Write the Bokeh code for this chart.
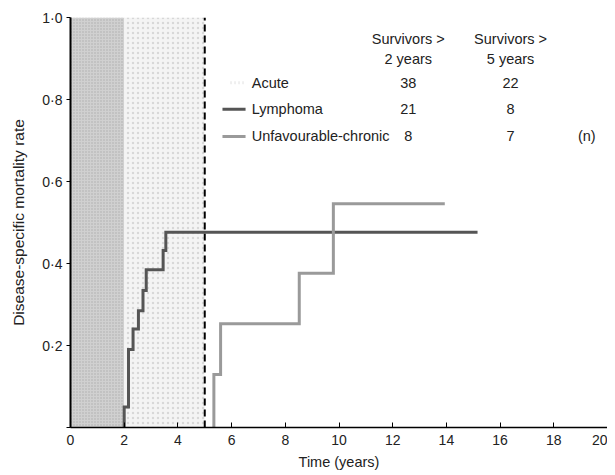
from bokeh.plotting import figure
from bokeh.models import ColumnDataSource, FixedTicker
from bokeh.core.properties import value
from bokeh.embed import file_html
from bokeh.resources import INLINE

# --- data ---
groups = ["Acute", "Lymphoma", "Unfavourable-chronic"]
surv_2y = ["38", "21", "8"]
surv_5y = ["22", "8", "7"]
col_headers = ["Survivors >\n2 years", "Survivors >\n5 years"]

# shaded periods (years)
acute_dark_span = [0, 2]
acute_light_span = [2, 5]
cutoff_year = 5

lym_t = [2.0, 2.0, 2.16, 2.33, 2.53, 2.70, 2.82, 3.45, 3.55, 15.16]
lym_y = [0.0, 0.05, 0.19, 0.24, 0.285, 0.334, 0.385, 0.432, 0.476, 0.476]

unf_t = [5.34, 5.34, 5.59, 8.52, 9.79, 13.94]
unf_y = [0.0, 0.129, 0.253, 0.376, 0.546, 0.546]

x_ticks = list(range(0, 21, 2))
y_ticks = [0.0, 0.2, 0.4, 0.6, 0.8, 1.0]
y_tick_labels = {0.0: "", 0.2: "0·2", 0.4: "0·4", 0.6: "0·6", 0.8: "0·8", 1.0: "1·0"}

FONT = "Liberation Sans"
TXT = "#222222"
LYM_COL = "#555555"
UNF_COL = "#9a9a9a"

p = figure(output_backend="svg", toolbar_location=None,
           frame_width=537, frame_height=410,
           x_range=(0, 20), y_range=(0, 1),
           min_border_left=70, min_border_right=0,
           min_border_top=17, min_border_bottom=40)
p.outline_line_color = None
p.xgrid.visible = False
p.ygrid.visible = False

# shaded regions
p.quad(left=[acute_dark_span[0]], right=[acute_dark_span[1]], bottom=[0], top=[1],
       fill_color="#d0d0d0", line_color=None,
       hatch_pattern="dot", hatch_color="#ababab", hatch_scale=3, hatch_weight=1)
p.quad(left=[acute_light_span[0]], right=[acute_light_span[1]], bottom=[0], top=[1],
       fill_color="#f4f4f4", line_color=None,
       hatch_pattern="dot", hatch_color="#d8d8d8", hatch_scale=5, hatch_weight=1)

# cutoff dashed line
p.line([cutoff_year, cutoff_year], [0, 1], line_color="black", line_width=2,
       line_dash="7 4")

# curves
p.step(lym_t, lym_y, mode="after", line_color=LYM_COL, line_width=3, line_join="miter")
p.step(unf_t, unf_y, mode="after", line_color=UNF_COL, line_width=3, line_join="miter")

# legend / table (manual)
row_y = [0.841, 0.776, 0.71]
sample_x0, sample_x1 = 5.66, 6.52
label_x = 6.75
col1_x, col2_x, n_x = 12.58, 16.39, 19.23

p.segment(x0=[sample_x0 + 0.3], x1=[sample_x1], y0=[row_y[0]], y1=[row_y[0]],
          line_color="#e0e0e0", line_width=3, line_dash="1 3")
p.segment(x0=[sample_x0] * 2, x1=[sample_x1] * 2, y0=row_y[1:], y1=row_y[1:],
          line_color=[LYM_COL, UNF_COL], line_width=3)

FS = "14.5px"
tsrc = ColumnDataSource(dict(x=[label_x] * 3, y=row_y, t=groups))
p.text(x="x", y="y", text="t", source=tsrc, text_font=value(FONT),
       text_font_size=FS, text_baseline="middle", text_align="left",
       text_color=TXT)
p.text(x=[col1_x] * 3, y=row_y, text=surv_2y, text_font=value(FONT),
       text_font_size=FS, text_baseline="middle", text_align="center",
       text_color=TXT)
p.text(x=[col2_x] * 3, y=row_y, text=surv_5y, text_font=value(FONT),
       text_font_size=FS, text_baseline="middle", text_align="center",
       text_color=TXT)
p.text(x=[n_x], y=[row_y[2]], text=["(n)"], text_font=value(FONT),
       text_font_size=FS, text_baseline="middle", text_align="center",
       text_color=TXT)
p.text(x=[col1_x, col2_x], y=[0.923, 0.923], text=col_headers, text_font=value(FONT),
       text_font_size=FS, text_baseline="middle", text_align="center",
       text_line_height=1.2, text_color=TXT)

# axes
p.xaxis.ticker = FixedTicker(ticks=x_ticks)
p.yaxis.ticker = FixedTicker(ticks=y_ticks)
p.yaxis.major_label_overrides = y_tick_labels
p.xaxis.axis_label = "Time (years)"
p.yaxis.axis_label = "Disease-specific mortality rate"
for ax in (p.xaxis, p.yaxis):
    ax.axis_label_text_font = FONT
    ax.axis_label_text_font_style = "normal"
    ax.axis_label_text_color = TXT
    ax.major_label_text_font = FONT
    ax.major_label_text_font_size = "14px"
    ax.major_label_text_color = TXT
    ax.minor_tick_line_color = None
    ax.axis_line_color = "black"
    ax.major_tick_line_color = "black"
p.xaxis.axis_label_text_font_size = "14.5px"
p.yaxis.axis_label_text_font_size = "15.5px"
p.xaxis.axis_line_width = 1.5
p.yaxis.axis_line_width = 2
p.xaxis.major_tick_in = 5
p.xaxis.major_tick_out = 0
p.xaxis.major_label_standoff = 7
p.xaxis.axis_label_standoff = 6
p.yaxis.major_tick_in = 0
p.yaxis.major_tick_out = 4
p.yaxis.major_label_standoff = 4
p.yaxis.axis_label_standoff = 12

open("out.html", "w").write(file_html(p, INLINE))
